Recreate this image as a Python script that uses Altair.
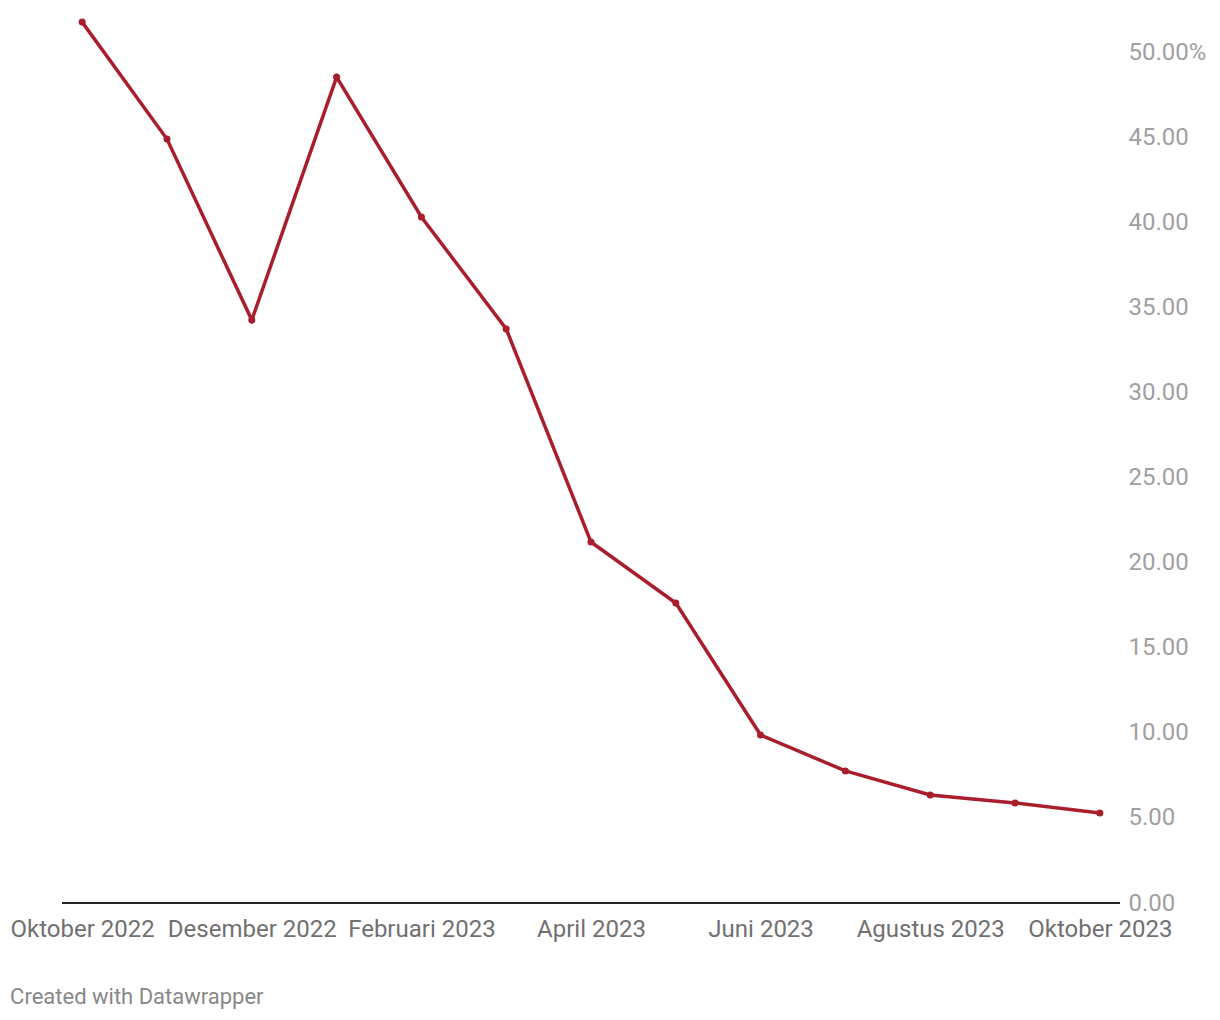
import altair as alt
import pandas as pd

months = ["Oktober 2022", "November 2022", "Desember 2022", "Januari 2023", "Februari 2023",
          "Maret 2023", "April 2023", "Mei 2023", "Juni 2023", "Juli 2023",
          "Agustus 2023", "September 2023", "Oktober 2023"]
values = [51.76, 44.89, 34.25, 48.53, 40.31, 33.73, 21.21, 17.63, 9.87, 7.76, 6.35, 5.88, 5.29]
shown_labels = months[::2]
y_ticks = [0, 5, 10, 15, 20, 25, 30, 35, 40, 45, 50]

df = pd.DataFrame({"month": months, "value": values})

FONT = "Roboto"
RED = "#a91e2c"

x = alt.X("month:O", sort=months, title=None,
          scale=alt.Scale(type="point", padding=0.238),
          axis=alt.Axis(values=shown_labels, labelAngle=0, tickSize=0, domain=False,
                        labelPadding=14, labelFontSize=24, labelColor="#707070",
                        labelFont=FONT, labelOverlap=False, grid=False))
y = alt.Y("value:Q", title=None,
          scale=alt.Scale(domain=[0, 53], nice=False, zero=True),
          axis=alt.Axis(orient="right", values=y_ticks, tickSize=0, domain=False, grid=False,
                        labelPadding=8, labelFontSize=24, labelColor="#a0a0a0", labelFont=FONT,
                        labelAlign="left",
                        labelExpr="datum.value == 50 ? format(datum.value, '.2f') + '%' : format(datum.value, '.2f')"))

line = alt.Chart(df).mark_line(color=RED, strokeWidth=3.5).encode(x=x, y=y)
pts = alt.Chart(df).mark_point(color=RED, filled=True, size=50, opacity=1).encode(x=x, y=y)
base = alt.Chart(pd.DataFrame({"v": [0]})).mark_rule(color="#222222", strokeWidth=2).encode(
    y=alt.Y("v:Q"), x=alt.value(0), x2=alt.value(1058))

chart = alt.layer(base, line, pts).properties(
    width=1058, height=902,
    background="white",
    autosize=alt.AutoSizeParams(type="none"),
    padding={"left": 62, "top": 1, "right": 100, "bottom": 117},
    title=alt.TitleParams(text="Created with Datawrapper", orient="bottom", anchor="start",
                          frame="bounds", dx=0, offset=46, font=FONT, fontSize=22,
                          fontWeight="normal", color="#888888"),
).configure_view(strokeWidth=0, stroke=None)

chart.save("out.html", embed_options={"renderer": "svg", "actions": False})
